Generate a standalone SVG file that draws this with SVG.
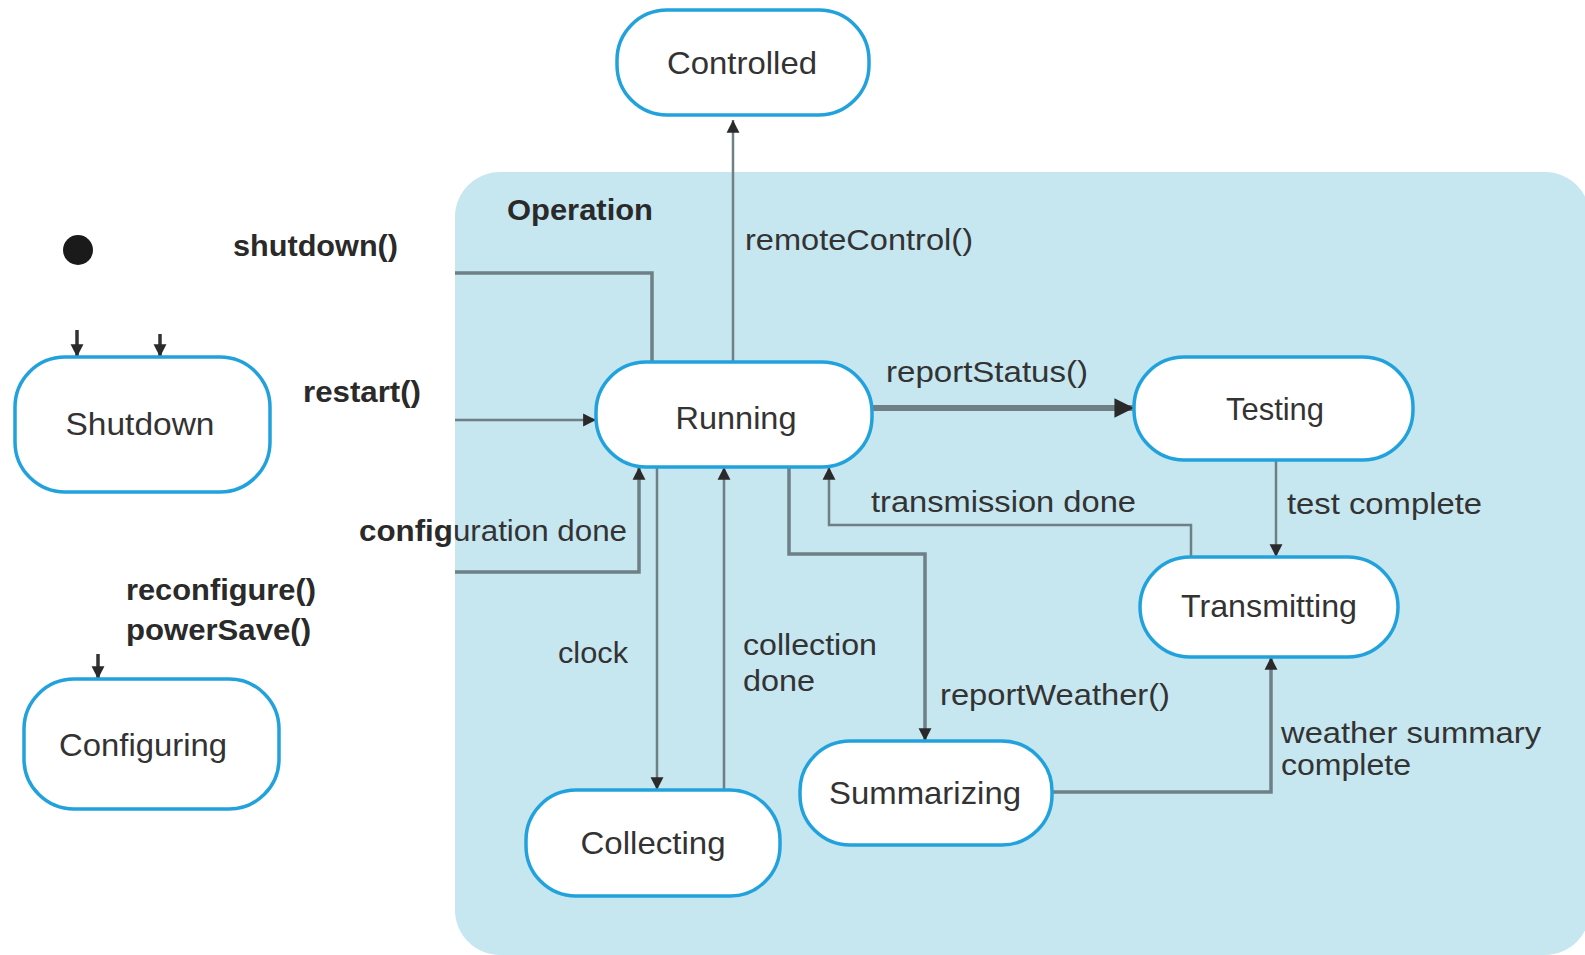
<svg xmlns="http://www.w3.org/2000/svg" width="1585" height="955" viewBox="0 0 1585 955">
<style>
.st{fill:#fff;stroke:#22a2dc;stroke-width:3.5}
.nm{font-family:"Liberation Sans",Arial,sans-serif;font-size:32px;fill:#333;text-anchor:middle}
.lb{font-family:"Liberation Sans",Arial,sans-serif;font-size:30px;fill:#333}
.bd{font-family:"Liberation Sans",Arial,sans-serif;font-size:30px;fill:#2a2a2a;font-weight:bold}
.cn{fill:none;stroke:#6e8086;stroke-width:2.5}
.th{stroke-width:3.5}
.stub{stroke:#333;stroke-width:3.5}
</style>
<defs>
<marker id="arr" viewBox="0 0 12 14" refX="12" refY="7" markerWidth="15" markerHeight="15" markerUnits="userSpaceOnUse" orient="auto"><path d="M0,1 L12,7 L0,13 z" fill="#2a2a2a"/></marker>
<marker id="arrB" viewBox="0 0 16 18" refX="16" refY="9" markerWidth="22" markerHeight="22" markerUnits="userSpaceOnUse" orient="auto"><path d="M0,1 L16,9 L0,17 z" fill="#2a2a2a"/></marker>
</defs>
<rect id="bg" x="0" y="0" width="1585" height="955" fill="#fff"/>
<g id="Operation">
<rect x="455" y="172" width="1135" height="783" rx="45" fill="#c6e6f0"/>
<text class="bd" x="507" y="220" textLength="146" lengthAdjust="spacingAndGlyphs" font-size="28">Operation</text>
</g>
<g id="connectors">
<path class="cn" d="M733,362 V120" marker-end="url(#arr)"/>
<path class="cn th" d="M455,273 H652 V362"/>
<path class="cn" d="M455,420 H596" marker-end="url(#arr)"/>
<path class="cn th" d="M455,572 H639 V467" marker-end="url(#arr)"/>
<path class="cn" style="stroke-width:6" d="M872,408 H1134" marker-end="url(#arrB)"/>
<path class="cn" d="M1276,460 V557" marker-end="url(#arr)"/>
<path class="cn" d="M1191,557 V525 H829 V467" marker-end="url(#arr)"/>
<path class="cn th" d="M789,467 V554 H925 V741" marker-end="url(#arr)"/>
<path class="cn th" d="M1052,792 H1271 V657" marker-end="url(#arr)"/>
<path class="cn" d="M657,467 V790" marker-end="url(#arr)"/>
<path class="cn" d="M724,790 V467" marker-end="url(#arr)"/>
<path class="cn stub" d="M77,330 V357" marker-end="url(#arr)"/>
<path class="cn stub" d="M160,334 V357" marker-end="url(#arr)"/>
<path class="cn stub" d="M98,654 V679" marker-end="url(#arr)"/>
</g>
<g id="labels">
<text class="lb" x="745" y="250" textLength="228" lengthAdjust="spacingAndGlyphs">remoteControl()</text>
<text class="bd" x="233" y="256" textLength="165" lengthAdjust="spacingAndGlyphs">shutdown()</text>
<text class="bd" x="303" y="402" textLength="118" lengthAdjust="spacingAndGlyphs">restart()</text>
<text class="lb" x="359" y="541" textLength="268" lengthAdjust="spacingAndGlyphs"><tspan font-weight="bold" fill="#2a2a2a">config</tspan>uration done</text>
<text class="bd" x="126" y="600" textLength="190" lengthAdjust="spacingAndGlyphs">reconfigure()</text>
<text class="bd" x="126" y="640" textLength="185" lengthAdjust="spacingAndGlyphs">powerSave()</text>
<text class="lb" x="886" y="382" textLength="202" lengthAdjust="spacingAndGlyphs">reportStatus()</text>
<text class="lb" x="1287" y="514" textLength="195" lengthAdjust="spacingAndGlyphs">test complete</text>
<text class="lb" x="871" y="512" textLength="265" lengthAdjust="spacingAndGlyphs">transmission done</text>
<text class="lb" x="558" y="663" textLength="70" lengthAdjust="spacingAndGlyphs">clock</text>
<text class="lb" x="743" y="655" textLength="134" lengthAdjust="spacingAndGlyphs">collection</text>
<text class="lb" x="743" y="691" textLength="72" lengthAdjust="spacingAndGlyphs">done</text>
<text class="lb" x="940" y="705" textLength="230" lengthAdjust="spacingAndGlyphs">reportWeather()</text>
<text class="lb" x="1281" y="743" textLength="260" lengthAdjust="spacingAndGlyphs">weather summary</text>
<text class="lb" x="1281" y="775" textLength="130" lengthAdjust="spacingAndGlyphs">complete</text>
</g>
<g id="Initial"><circle cx="78" cy="250" r="15" fill="#1a1a1a"/></g>
<g id="Controlled">
<rect class="st" x="617" y="10" width="252" height="105" rx="50"/>
<text class="nm" x="742" y="74" textLength="150" lengthAdjust="spacingAndGlyphs">Controlled</text>
</g>
<g id="Shutdown">
<rect class="st" x="15" y="357" width="255" height="135" rx="50"/>
<text class="nm" x="140" y="435" textLength="149" lengthAdjust="spacingAndGlyphs">Shutdown</text>
</g>
<g id="Configuring">
<rect class="st" x="24" y="679" width="255" height="130" rx="50"/>
<text class="nm" x="143" y="756" textLength="168" lengthAdjust="spacingAndGlyphs">Configuring</text>
</g>
<g id="Running">
<rect class="st" x="596" y="362" width="276" height="105" rx="50"/>
<text class="nm" x="736" y="429" textLength="121" lengthAdjust="spacingAndGlyphs">Running</text>
</g>
<g id="Testing">
<rect class="st" x="1134" y="357" width="279" height="103" rx="50"/>
<text class="nm" x="1275" y="420" font-size="35" textLength="98" lengthAdjust="spacingAndGlyphs">Testing</text>
</g>
<g id="Transmitting">
<rect class="st" x="1140" y="557" width="258" height="100" rx="50"/>
<text class="nm" x="1269" y="617" textLength="176" lengthAdjust="spacingAndGlyphs">Transmitting</text>
</g>
<g id="Summarizing">
<rect class="st" x="800" y="741" width="252" height="104" rx="50"/>
<text class="nm" x="925" y="804" textLength="192" lengthAdjust="spacingAndGlyphs">Summarizing</text>
</g>
<g id="Collecting">
<rect class="st" x="526" y="790" width="254" height="106" rx="50"/>
<text class="nm" x="653" y="854" textLength="145" lengthAdjust="spacingAndGlyphs">Collecting</text>
</g>
</svg>
